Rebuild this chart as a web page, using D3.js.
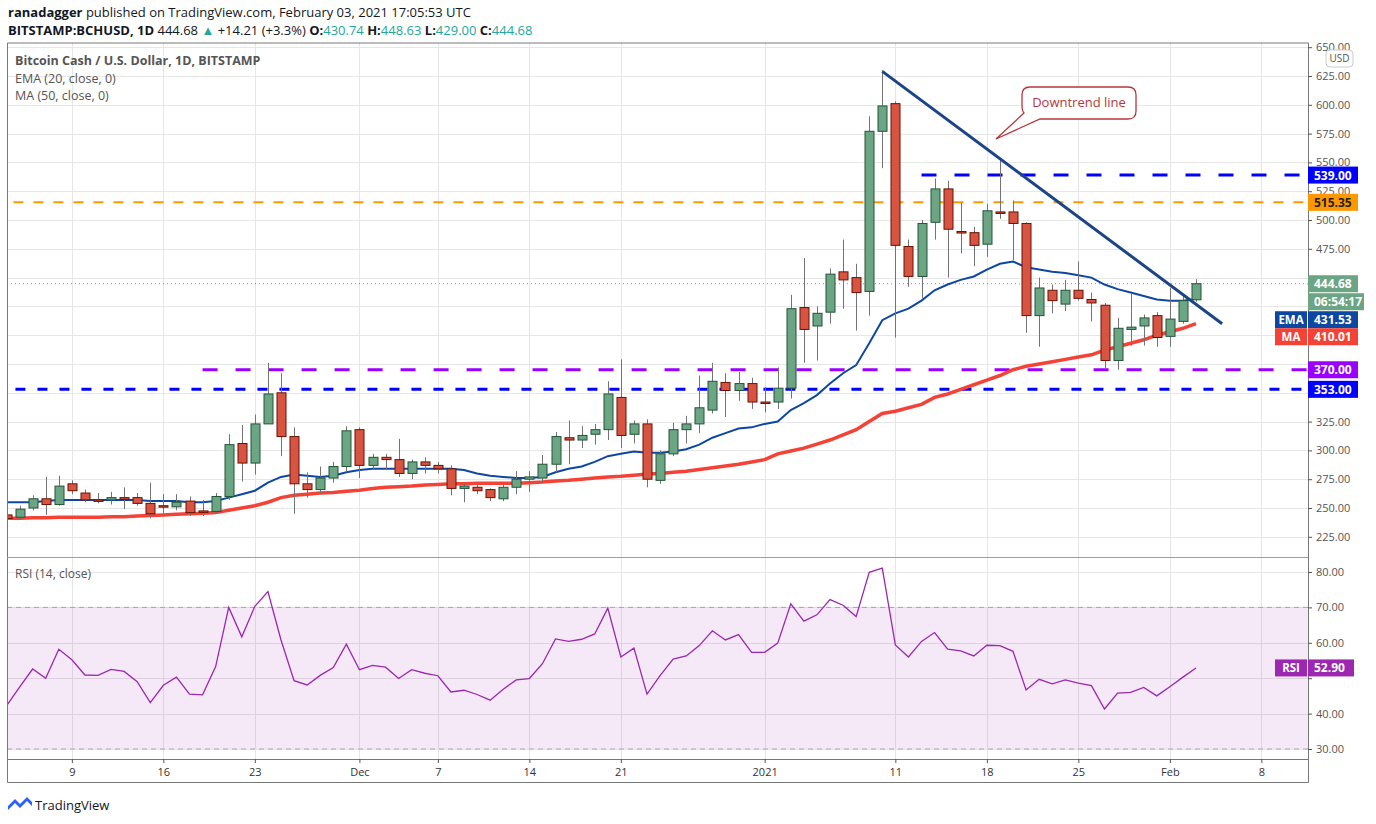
<!DOCTYPE html>
<html><head><meta charset="utf-8">
<script src="https://cdn.jsdelivr.net/npm/d3@7"></script>
<style>
body{margin:0;background:#fff;font-family:"Open Sans","Noto Sans",sans-serif}
svg text{font-family:"Open Sans","Noto Sans",sans-serif}
</style></head>
<body><svg id="c" width="1376" height="824"></svg>
<script>
// datos diarios BCHUSD, 4 nov 2020 -> 3 feb 2021
const startDay = new Date(Date.UTC(2020,10,4))
const openV  = [244,242,250,258,253,271,263,257,257,259,259,254,252,251,256,247.5,247,260,306,289,323,350,312,271,266,276,286,318,287,294,292,280,290,287,284,267,268,266,258,268,275,276,288,311,309,314,318,346,314,323,274,297,318,323,335,359,352,358,342,342,354,424,408,420,455,450,438,577,601,477,451,498,527,490,489,479,507,507,497,417,439,427,439,431,426,378,405,408,417,399,412,430.74]
const highV  = [245,252,261,277,278,274,266,263,264,268,263,272,262,262,260,257,263,314,322,331,376,367,320,281,286,290,321,320,297,297,310,292,294,290,287,271,270,267,271,282,282,296,316,326,321,323,360,379,326,327,300,324,330,365,376,367,368,363,355,372,435,467,425,458,483,462,590,630,603,483,500,536,534,515,494,514,552,517,498,450,444,448,464,437,428,415,436,418,420,441,434,448.63]
const lowV   = [240,240,248,244,252,262,255,254,253,249,252,241,244,248,243,243,245,257,273,279,323,295,245,259,262,272,281,276,284,283,277,275,280,280,261,255,262,256,256,262,264,272,281,288,302,305,309,302,306,268,271,295,306,315,332,329,343,336,333,336,345,376,378,410,423,404,417,545,398,442,432,483,450,471,460,468,501,465,402,390,419,421,430,412,371,370,391,391,390,390,410,429]
const closeV = [241,249,258,253,269,265,257,256,259,257.5,254,245,251,255,246,247,260,305,289,323,349,312,271,266,276,286,317,287,294,292,280,290,287,284,267,269,265,259,268,275,277,288,312,309,313,318,349,313,323,275,297,318,323,337,360,352,358,342,341,354,423,405,419,453,448,437,577,599,478,451,497,527,492,489,478,508,506,497,417,441,430,439,432,428,378,406,407,415,398,414,430,444.68]
const ema20 = [255,255,255,256,257,257,257,257,257,257,257,256,256,256,255,255,256,259,262,265,272,277,279,278,277,278,281,283,284,284,284,284,284,284,284,283,280,278,277,276,276,277,281,284,286,290,295,297,299,298,298,299,301,305,311,315,319,320,323,325,335,341,348,358,367,374,393,413,419,423,430,439,444,448,451,457,462,464,459,457,455,454,452,450,444,440,437,434,431,430,430,431.53]
const ma50 = [241,241,241.5,241.5,242,242,242,242,242.5,242.5,243,243.5,244,244.5,245,245.5,246,248,250,252,255,259,261,262,263,263.5,264.5,265.5,267,268,268.5,269,270,270.5,271,271,271.5,271.5,271.5,271.5,272,272.5,273.5,274,275,276,277,277.5,278.5,279.5,280,281,282,283.5,285,286.5,288,290,292,297,299.5,302,305.5,309,313.5,318,325,332,334,337,340,346,349,353,357,361,365,370,373,375,377,379,381,383,387,390,393,396,400,403,406,410.01]
const rsi = [42.2,47.5,52.6,50.0,58.2,55.2,50.9,50.8,52.5,51.9,49.0,43.1,48.0,50.3,45.5,45.3,53.3,70.0,61.7,70.3,74.5,60.8,49.3,48.1,50.8,53.0,59.6,52.4,53.6,53.1,49.9,52.4,51.4,50.7,46.1,46.6,45.4,43.8,46.9,49.5,49.9,54.1,61.1,60.4,61.0,62.5,69.8,56.0,58.5,45.5,50.7,55.4,56.3,59.2,63.4,60.8,62.3,57.3,57.3,59.9,71.0,66.1,67.9,72.2,70.6,67.4,79.9,81.1,59.4,56.0,60.4,62.9,58.2,57.7,56.3,59.3,59.2,57.6,46.7,49.7,48.4,49.5,48.6,47.9,41.3,45.8,46.0,47.4,45.0,47.6,50.3,52.9]
const priceTicks = [225,250,275,300,325,350,375,400,425,450,475,500,525,550,575,600,625,650]
const rsiTicks = [30,40,50,60,70,80]
const xTickDates = ['2020-11-09','2020-11-16','2020-11-23','2020-12-01','2020-12-07','2020-12-14','2020-12-21','2021-01-01','2021-01-11','2021-01-18','2021-01-25','2021-02-01','2021-02-08']
const xTickLabels = ['9','16','23','Dec','7','14','21','2021','11','18','25','Feb','8']
// niveles horizontales: precio, color, desde
const levels = [
  {p:539, c:'#0000ff', from:'2021-01-13', dash:'15,18', w:3},
  {p:515.35, c:'#ff9800', from:'2020-11-03', dash:'10,10', w:2},
  {p:370, c:'#9900ff', from:'2020-11-19', dash:'15,18', w:3},
  {p:353, c:'#0000ff', from:'2020-11-03', dash:'10,12', w:3}
]
const trendLine = [['2021-01-10',629],['2021-02-05',410]]

const dates = d3.range(closeV.length).map(i => d3.utcDay.offset(startDay, i))
const pd = s => new Date(s + 'T00:00:00Z')

const L = 7, R = 1308, T = 43, B1 = 557, B2 = 759, B3 = 782
const x = d3.scaleUtc().domain([startDay, dates[dates.length-1]]).range([6.5, 1196])
const y = d3.scaleLinear().domain([250, 625]).range([508, 76])
const yr = d3.scaleLinear().domain([30, 80]).range([749, 572])

const svg = d3.select('#c')
const defs = svg.append('defs')
defs.append('clipPath').attr('id','cp1').append('rect').attr('x',L).attr('y',T).attr('width',R-L).attr('height',B1-T)
defs.append('clipPath').attr('id','cp2').append('rect').attr('x',L).attr('y',B1).attr('width',R-L).attr('height',B2-B1)

/* cabecera */
const h1 = svg.append('text').attr('x',8).attr('y',17).attr('font-size',13).attr('fill','#131722')
h1.append('tspan').attr('font-weight','bold').text('ranadagger')
h1.append('tspan').text(' published on TradingView.com, February 03, 2021 17:05:53 UTC')
const h2 = svg.append('text').attr('x',8).attr('y',35).attr('font-size',13).attr('fill','#131722')
h2.append('tspan').attr('font-weight','bold').text('BITSTAMP:BCHUSD, 1D ')
h2.append('tspan').text('444.68 ')
h2.append('tspan').attr('fill','#26a69a').text('▲')
h2.append('tspan').text(' +14.21 (+3.3%) ')
;[['O:','430.74'],['H:','448.63'],['L:','429.00'],['C:','444.68']].forEach(([k,v]) => {
  h2.append('tspan').attr('font-weight','bold').text(k)
  h2.append('tspan').attr('fill','#26a69a').text(v + ' ')
})

/* rejilla */
const grid = svg.append('g').attr('stroke','#e6e6e6').attr('stroke-width',1)
xTickDates.forEach(d => grid.append('line').attr('x1',Math.round(x(pd(d)))+.5).attr('x2',Math.round(x(pd(d)))+.5).attr('y1',T).attr('y2',B2))
priceTicks.forEach(p => { const yy = Math.round(y(p))+.5; if (yy>T && yy<B1) grid.append('line').attr('x1',L).attr('x2',R).attr('y1',yy).attr('y2',yy) })
rsiTicks.forEach(p => grid.append('line').attr('x1',L).attr('x2',R).attr('y1',Math.round(yr(p))+.5).attr('y2',Math.round(yr(p))+.5))

/* panel RSI */
const g2 = svg.append('g').attr('clip-path','url(#cp2)')
g2.append('rect').attr('x',L).attr('y',yr(70)).attr('width',R-L).attr('height',yr(30)-yr(70)).attr('fill','#9c27b0').attr('opacity',0.1)
;[70,30].forEach(v => g2.append('line').attr('x1',L).attr('x2',R).attr('y1',yr(v)).attr('y2',yr(v)).attr('stroke','#b39bbf').attr('stroke-dasharray','5,4'))
g2.append('path').datum(rsi).attr('fill','none').attr('stroke','#9c27b0').attr('stroke-width',1.3)
  .attr('d', d3.line().x((d,i) => x(dates[i])).y(d => yr(d)))
svg.append('text').attr('x',15).attr('y',578).attr('font-size',12).attr('fill','#555').text('RSI (14, close)')

/* panel principal */
const g1 = svg.append('g').attr('clip-path','url(#cp1)')
g1.append('line').attr('x1',L).attr('x2',R).attr('y1',y(444.68)).attr('y2',y(444.68)).attr('stroke','#6ba583').attr('stroke-dasharray','1,3')
levels.forEach(l => g1.append('line').attr('x1',x(pd(l.from))).attr('x2',R).attr('y1',y(l.p)).attr('y2',y(l.p))
  .attr('stroke',l.c).attr('stroke-width',l.w).attr('stroke-dasharray',l.dash))
g1.append('path').datum(ma50).attr('fill','none').attr('stroke','#f44336').attr('stroke-width',3.5)
  .attr('d', d3.line().x((d,i) => x(dates[i])).y(d => y(d)))
g1.append('path').datum(ema20).attr('fill','none').attr('stroke','#0d47a1').attr('stroke-width',2)
  .attr('d', d3.line().x((d,i) => x(dates[i])).y(d => y(d)))

const candles = g1.selectAll('g.k').data(dates).join('g')
candles.append('line').attr('x1',(d,i)=>Math.round(x(d))+.5).attr('x2',(d,i)=>Math.round(x(d))+.5)
  .attr('y1',(d,i)=>y(highV[i])).attr('y2',(d,i)=>y(lowV[i])).attr('stroke','#737375')
candles.append('rect').attr('x',(d,i)=>Math.round(x(d))-4).attr('width',9)
  .attr('y',(d,i)=>y(Math.max(openV[i],closeV[i])))
  .attr('height',(d,i)=>Math.max(1.5, Math.abs(y(openV[i])-y(closeV[i]))))
  .attr('fill',(d,i)=>closeV[i]>=openV[i] ? '#6ba583' : '#d75442')
  .attr('stroke',(d,i)=>closeV[i]>=openV[i] ? '#225437' : '#6b1100').attr('stroke-width',1)

g1.append('line').attr('x1',x(pd(trendLine[0][0]))).attr('y1',y(trendLine[0][1]))
  .attr('x2',x(pd(trendLine[1][0]))).attr('y2',y(trendLine[1][1])).attr('stroke','#1c4587').attr('stroke-width',3)

/* globo */
const bx = 1022, by = 87, bw = 114, bh = 32
g1.append('path').attr('d',`M${bx+8},${by} H${bx+bw-8} Q${bx+bw},${by} ${bx+bw},${by+8} V${by+bh-8} Q${bx+bw},${by+bh} ${bx+bw-8},${by+bh} H${bx+18} L996,139 L${bx+2},${by+bh-6} Q${bx},${by+bh-8} ${bx},${by+bh-14} V${by+8} Q${bx},${by} ${bx+8},${by} Z`)
  .attr('fill','#fff').attr('stroke','#b5373d').attr('stroke-width',1.3)
g1.append('text').attr('x',bx+bw/2).attr('y',by+20).attr('text-anchor','middle').attr('font-size',13).attr('fill','#b5373d').text('Downtrend line')

/* leyenda */
svg.append('text').attr('x',15).attr('y',65).attr('font-size',12.5).attr('font-weight','bold').attr('fill','#555').text('Bitcoin Cash / U.S. Dollar, 1D, BITSTAMP')
svg.append('text').attr('x',15).attr('y',83).attr('font-size',12.5).attr('fill','#555').text('EMA (20, close, 0)')
svg.append('text').attr('x',15).attr('y',100).attr('font-size',12.5).attr('fill','#555').text('MA (50, close, 0)')

/* bordes */
const fr = svg.append('g').attr('stroke','#555').attr('fill','none')
fr.append('path').attr('d',`M${L}.5,${T} V${B3}.5 H${R}.5 V${T} Z`).attr('stroke','#787878')
fr.append('line').attr('x1',L).attr('x2',R).attr('y1',B1+.5).attr('y2',B1+.5).attr('stroke','#9e9e9e')
fr.append('line').attr('x1',L).attr('x2',R).attr('y1',B2+.5).attr('y2',B2+.5).attr('stroke','#787878')

/* ejes */
const xa = svg.append('g').attr('transform',`translate(0,${B2})`)
  .call(d3.axisBottom(x).tickValues(xTickDates.map(pd)).tickFormat((d,i)=>xTickLabels[i]).tickSize(4).tickPadding(5))
xa.select('.domain').remove()
xa.selectAll('text').attr('font-size',11).attr('fill','#333').attr('font-family','"Open Sans",sans-serif')
xa.selectAll('line').attr('stroke','#555')

// etiquetas de precio que quedarían tapadas por las cajas se ocultan
const hidden = [450, 400, 375, 350]
const ya = svg.append('g').attr('transform',`translate(${R},0)`)
  .call(d3.axisRight(y).tickValues(priceTicks).tickFormat(d3.format('.2f')).tickSize(4).tickPadding(4))
ya.select('.domain').remove()
ya.selectAll('text').attr('font-size',11).attr('fill','#555').attr('font-family','"Open Sans",sans-serif')
ya.selectAll('.tick').filter(d => hidden.includes(d)).select('text').remove()
ya.selectAll('line').attr('stroke','#555')
const ya2 = svg.append('g').attr('transform',`translate(${R},0)`)
  .call(d3.axisRight(yr).tickValues(rsiTicks).tickFormat(d3.format('.2f')).tickSize(4).tickPadding(4))
ya2.select('.domain').remove()
ya2.selectAll('text').attr('font-size',11).attr('fill','#555').attr('font-family','"Open Sans",sans-serif')
ya2.selectAll('.tick').filter(d => d === 50).select('text').remove()
ya2.selectAll('line').attr('stroke','#555')

svg.append('rect').attr('x',1326).attr('y',50).attr('width',27).attr('height',17).attr('rx',4).attr('fill','#fff').attr('stroke','#ccc')
svg.append('text').attr('x',1339.5).attr('y',62).attr('text-anchor','middle').attr('font-size',10).attr('fill','#555').text('USD')

/* etiquetas del eje */
function tag(yy, txt, bg, fg, w, name) {
  svg.append('rect').attr('x',R).attr('y',yy-8.5).attr('width',w||50).attr('height',17).attr('fill',bg)
  svg.append('text').attr('x',R+6).attr('y',yy+4.5).attr('font-size',12).attr('font-weight','bold').attr('fill',fg).text(txt)
  if (name) {
    svg.append('rect').attr('x',R-33).attr('y',yy-8.5).attr('width',32).attr('height',17).attr('fill',bg)
    svg.append('text').attr('x',R-17).attr('y',yy+4.5).attr('text-anchor','middle').attr('font-size',11.5).attr('font-weight','bold').attr('fill',fg).text(name)
  }
}
tag(y(539),'539.00','#0000ff','#fff')
tag(y(515.35),'515.35','#ff9800','#222')
tag(y(444.68),'444.68','#6ba583','#fff')
tag(y(444.68)+18,'06:54:17','#6ba583','#fff',56)
tag(y(444.68)+36,'431.53','#0d47a1','#fff',50,'EMA')
tag(y(444.68)+53,'410.01','#f44336','#fff',50,'MA')
tag(y(370),'370.00','#9900ff','#fff')
tag(y(353),'353.00','#0000ff','#fff')
tag(yr(52.9),'52.90','#9c27b0','#fff',46,'RSI')

/* logo */
const lg = svg.append('g').attr('transform','translate(8,797)')
lg.append('path').attr('d','M0,9 L7,2 L12,7 L19,0 L24,5 L24,9 L19,4 L12,11 L7,6 L0,13 Z').attr('fill','#2962ff')
svg.append('text').attr('x',35).attr('y',810).attr('font-size',13).attr('fill','#131722').text('TradingView')
</script></body></html>
